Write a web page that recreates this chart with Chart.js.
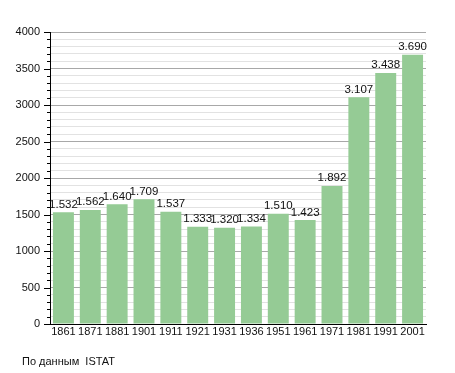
<!DOCTYPE html>
<html>
<head>
<meta charset="utf-8">
<script src="https://cdn.jsdelivr.net/npm/chart.js@4"></script>
<style>
  html, body { margin: 0; padding: 0; background: #fff; }
  #wrap { position: relative; width: 455px; height: 373px; }
  #note { position: absolute; left: 22px; top: 355px; font: 11px "Liberation Sans", Arial, sans-serif; color: #111; }
</style>
</head>
<body>
<div id="wrap">
  <canvas id="popChart" width="455" height="373"></canvas>
  <div id="note">По данным&nbsp; ISTAT</div>
</div>
<script>
// census years and inhabitants
const years = ['1861', '1871', '1881', '1901', '1911', '1921', '1931', '1936', '1951', '1961', '1971', '1981', '1991', '2001'];
const population = [1532, 1562, 1640, 1709, 1537, 1333, 1320, 1334, 1510, 1423, 1892, 3107, 3438, 3690];
const yTicks = [0, 500, 1000, 1500, 2000, 2500, 3000, 3500, 4000];

const fontFamily = '"Liberation Sans", Arial, sans-serif';

function fmt(v) {
  return String(v).replace(/\B(?=(\d{3})+(?!\d))/g, '.');
}

// value labels above bars
const barLabels = {
  id: 'barLabels',
  afterDatasetsDraw(chart) {
    const ctx = chart.ctx;
    const meta = chart.getDatasetMeta(0);
    ctx.save();
    ctx.font = '11.5px ' + fontFamily;
    ctx.fillStyle = '#111';
    ctx.textAlign = 'center';
    ctx.textBaseline = 'bottom';
    meta.data.forEach((bar, i) => {
      ctx.fillText(fmt(population[i]), bar.x, bar.y - 2);
    });
    ctx.restore();
  }
};

// tick marks on the y axis (long for labelled, short for minor)
const yTickMarks = {
  id: 'yTickMarks',
  afterDraw(chart) {
    const ctx = chart.ctx;
    const y = chart.scales.y;
    ctx.save();
    ctx.strokeStyle = '#000';
    ctx.lineWidth = 1;
    y.ticks.forEach(t => {
      const py = Math.round(y.getPixelForValue(t.value)) + 0.5;
      const len = yTicks.includes(t.value) ? 6 : 3;
      ctx.beginPath();
      ctx.moveTo(y.right - len, py);
      ctx.lineTo(y.right, py);
      ctx.stroke();
    });
    ctx.restore();
  }
};

new Chart(document.getElementById('popChart'), {
  type: 'bar',
  data: {
    labels: years,
    datasets: [{
      data: population,
      backgroundColor: '#95cb95',
      borderWidth: 0,
      barPercentage: 0.78,
      categoryPercentage: 1
    }]
  },
  options: {
    responsive: false,
    animation: false,
    layout: { padding: { top: 32, right: 29, left: 0, bottom: 0 } },
    plugins: {
      legend: { display: false },
      tooltip: { enabled: false }
    },
    scales: {
      x: {
        grid: { display: false, drawTicks: false },
        border: { color: '#000', width: 1 },
        ticks: { color: '#111', font: { family: fontFamily, size: 11 }, padding: 1, maxRotation: 0, autoSkip: false },
        afterFit(s) { s.height = 49; }
      },
      y: {
        min: 0,
        max: 4000,
        grid: {
          drawTicks: false,
          color: ctx => (ctx.tick && ctx.tick.value % 500 === 0) ? '#a8a8a8' : '#e2e2e2'
        },
        border: { color: '#000', width: 1 },
        ticks: {
          stepSize: 100,
          autoSkip: false,
          padding: 10,
          color: '#111',
          font: { family: fontFamily, size: 11 },
          callback: v => yTicks.includes(v) ? String(v) : ''
        },
        afterFit(s) { s.width = 50; }
      }
    }
  },
  plugins: [barLabels, yTickMarks]
});
</script>
</body>
</html>
